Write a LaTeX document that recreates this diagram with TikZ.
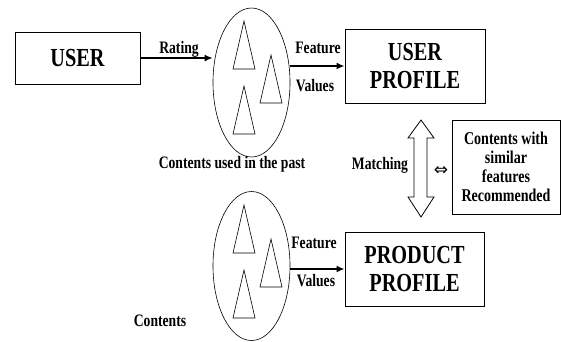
\documentclass[tikz,border=0pt]{standalone}
\usepackage{fontspec}
\setmainfont{Liberation Serif}[FakeStretch=0.78]
\newfontfamily\symfont{DejaVu Sans}
\usetikzlibrary{shapes.geometric,arrows.meta}
\begin{document}
\begin{tikzpicture}[x=1pt,y=-1pt,
  box/.style={draw,line width=0.9pt,inner sep=0pt,font=\fontsize{26}{28}\selectfont\bfseries,align=center},
  lbl/.style={inner sep=0pt,font=\fontsize{17.5}{19}\selectfont\bfseries,align=center},
  pool/.style={draw,ellipse,line width=0.6pt,inner sep=0pt,minimum width=77pt,minimum height=149pt},
  item/.style={draw,line width=0.6pt},
  flow/.style={line width=1.8pt,-{Latex[length=8pt,width=7pt]}}]
\useasboundingbox (0,0) rectangle (561,341);

% boxes
\node[box,minimum width=125pt,minimum height=52pt] (user) at (77.5,58) {USER};
\node[box,minimum width=140pt,minimum height=74pt] (uprof) at (415,66) {USER\\PROFILE};
\node[box,minimum width=139pt,minimum height=74pt] (pprof) at (414.5,269) {PRODUCT\\PROFILE};
\node[box,minimum width=108pt,minimum height=94pt,font=\fontsize{18}{19}\selectfont\bfseries] (rec) at (506,167)
  {Contents with\\similar\\features\\Recommended};

% content pools
\node[pool] (past) at (251.5,82.5) {};
\node[pool] (cont) at (251.5,266) {};

% items inside the pools
\foreach \dy in {0,184}{
  \draw[item] (244,21+\dy) -- (255,69+\dy) -- (233,69+\dy) -- cycle;
  \draw[item] (271,55+\dy) -- (282,103+\dy) -- (260,103+\dy) -- cycle;
  \draw[item] (244,86+\dy) -- (255,134+\dy) -- (233,134+\dy) -- cycle;
}

% flows
\draw[flow] (user.east) -- (user.east -| past.west);
\draw[flow] (uprof.west -| past.east) -- (uprof.west);
\draw[flow] (pprof.west -| cont.east) -- (pprof.west);

% labels
\node[lbl] (rating) at (179,49) {Rating};
\node[lbl] (feat1) at (318,48) {Feature};
\node[lbl] (val1) at (315,86) {Values};
\node[lbl] (feat2) at (314,243) {Feature};
\node[lbl] (val2) at (316,281) {Values};
\node[lbl] (pastlbl) at (232,164) {Contents used in the past};
\node[lbl] (contlbl) at (160,321) {Contents};
\node[lbl] (match) at (380,165) {Matching};
\node[inner sep=0pt,font=\symfont\fontsize{17}{17}\selectfont] (equiv) at (441,171) {⇔};

% matching double arrow
\coordinate (mt) at (421,120);
\coordinate (mb) at (421,217);
\draw[line width=0.8pt,fill=white]
  (mt) -- ++(13,18) -- ++(-7,0) -- (427,197) -- (434,197) -- (mb)
  -- (408,197) -- (414,197) -- (414,138) -- (408,138) -- cycle;
\end{tikzpicture}
\end{document}
